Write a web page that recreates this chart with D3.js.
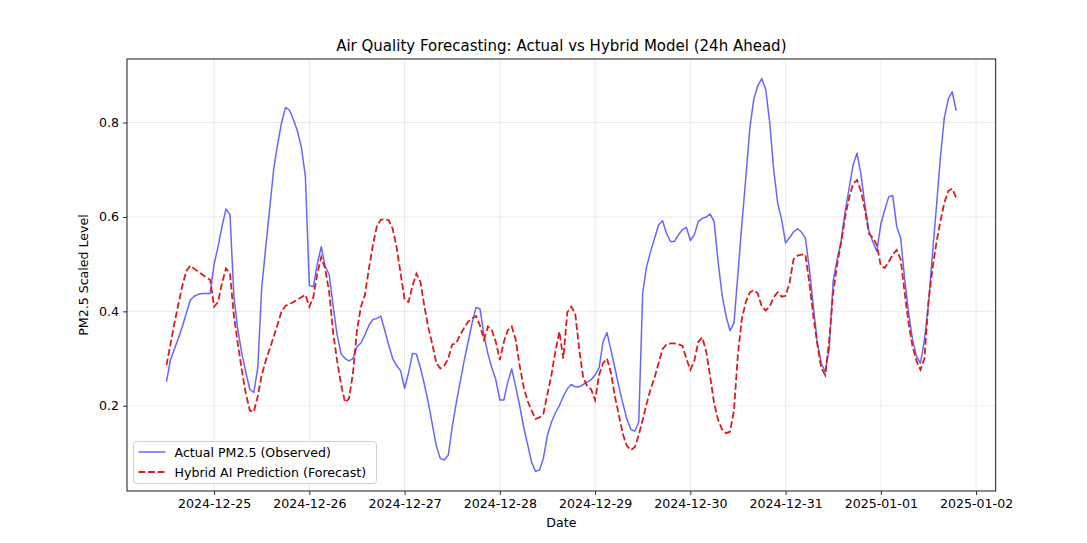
<!DOCTYPE html>
<html>
<head>
<meta charset="utf-8">
<script src="https://cdn.jsdelivr.net/npm/d3@7"></script>
<style>
  html, body { margin: 0; padding: 0; background: #fff; }
  svg { display: block; font-family: "DejaVu Sans", sans-serif; }
</style>
</head>
<body>
<svg id="chart" width="1087" height="543"></svg>
<script>
// ---- data (hourly, 2024-12-24 12:00 to 2025-01-01 19:00) ----
const startTime = "2024-12-24T12:00:00Z";
const actual = [
  0.251,0.297,0.320,0.343,0.368,0.396,0.424,0.432,0.436,0.438,0.438,0.438,
  0.500,0.537,0.580,0.617,0.605,0.430,0.360,0.310,0.270,0.235,0.228,0.280,
  0.450,0.535,0.617,0.700,0.754,0.800,0.832,0.826,0.806,0.782,0.747,0.686,
  0.455,0.452,0.500,0.537,0.495,0.478,0.410,0.350,0.310,0.300,0.295,0.300,
  0.325,0.333,0.350,0.370,0.383,0.385,0.390,0.360,0.328,0.300,0.285,0.274,
  0.237,0.270,0.311,0.309,0.280,0.245,0.205,0.160,0.115,0.088,0.085,0.095,
  0.155,0.205,0.250,0.295,0.335,0.375,0.408,0.405,0.350,0.310,0.280,0.255,
  0.212,0.212,0.250,0.278,0.240,0.200,0.155,0.118,0.080,0.061,0.064,0.090,
  0.138,0.165,0.185,0.200,0.220,0.236,0.245,0.240,0.240,0.245,0.250,0.255,
  0.265,0.280,0.335,0.355,0.318,0.280,0.240,0.205,0.172,0.150,0.146,0.165,
  0.440,0.495,0.527,0.555,0.583,0.592,0.565,0.548,0.548,0.562,0.573,0.578,
  0.550,0.562,0.590,0.597,0.600,0.606,0.590,0.505,0.435,0.390,0.359,0.375,
  0.480,0.585,0.685,0.788,0.850,0.878,0.893,0.870,0.800,0.700,0.630,0.595,
  0.545,0.556,0.568,0.575,0.568,0.555,0.490,0.410,0.335,0.290,0.272,0.320,
  0.465,0.510,0.550,0.610,0.660,0.710,0.735,0.690,0.625,0.570,0.547,0.527,
  0.585,0.615,0.643,0.645,0.580,0.555,0.470,0.397,0.340,0.305,0.290,0.340,
  0.415,0.520,0.620,0.725,0.810,0.850,0.865,0.825
];
const predicted = [
  0.286,0.330,0.375,0.415,0.455,0.485,0.497,0.490,0.484,0.478,0.472,0.467,
  0.410,0.420,0.460,0.491,0.480,0.390,0.330,0.275,0.225,0.190,0.187,0.220,
  0.265,0.295,0.320,0.346,0.372,0.400,0.412,0.415,0.420,0.425,0.430,0.435,
  0.410,0.430,0.480,0.515,0.490,0.440,0.355,0.295,0.245,0.207,0.215,0.270,
  0.360,0.410,0.435,0.490,0.540,0.580,0.594,0.595,0.593,0.575,0.535,0.480,
  0.425,0.420,0.455,0.480,0.462,0.410,0.365,0.330,0.290,0.279,0.285,0.300,
  0.330,0.332,0.350,0.365,0.378,0.385,0.390,0.370,0.340,0.368,0.360,0.335,
  0.297,0.335,0.360,0.368,0.340,0.285,0.240,0.210,0.190,0.172,0.175,0.184,
  0.225,0.265,0.315,0.357,0.300,0.398,0.410,0.395,0.320,0.260,0.242,0.235,
  0.212,0.265,0.290,0.300,0.270,0.220,0.180,0.140,0.115,0.106,0.112,0.138,
  0.170,0.205,0.235,0.260,0.290,0.320,0.330,0.332,0.332,0.330,0.327,0.300,
  0.276,0.295,0.335,0.345,0.315,0.262,0.205,0.170,0.150,0.142,0.145,0.190,
  0.310,0.385,0.420,0.440,0.445,0.438,0.410,0.402,0.410,0.430,0.440,0.431,
  0.433,0.460,0.510,0.518,0.520,0.520,0.460,0.390,0.330,0.280,0.265,0.340,
  0.440,0.500,0.545,0.600,0.640,0.670,0.678,0.655,0.615,0.565,0.556,0.540,
  0.497,0.492,0.505,0.520,0.530,0.510,0.440,0.375,0.325,0.295,0.276,0.300,
  0.420,0.490,0.545,0.590,0.630,0.655,0.660,0.640
];
const xTickLabels = ["2024-12-25","2024-12-26","2024-12-27","2024-12-28","2024-12-29",
                     "2024-12-30","2024-12-31","2025-01-01","2025-01-02"];
const yTickValues = [0.2, 0.4, 0.6, 0.8];
const seriesNames = ["Actual PM2.5 (Observed)", "Hybrid AI Prediction (Forecast)"];
const titleText = "Air Quality Forecasting: Actual vs Hybrid Model (24h Ahead)";

// ---- layout ----
const svg = d3.select("#chart");
const plot = { left: 127, right: 995.7, top: 59, bottom: 491 };

const t0 = new Date(startTime);
const times = actual.map((_, i) => d3.utcHour.offset(t0, i));

// matplotlib-style 5% padding
const xExt = d3.extent(times);
const xPad = (xExt[1] - xExt[0]) * 0.05;
const x = d3.scaleUtc()
  .domain([new Date(+xExt[0] - xPad), new Date(+xExt[1] + xPad)])
  .range([plot.left, plot.right]);

const allVals = actual.concat(predicted);
const yExt = d3.extent(allVals);
const yPad = (yExt[1] - yExt[0]) * 0.05;
const y = d3.scaleLinear()
  .domain([yExt[0] - yPad, yExt[1] + yPad])
  .range([plot.bottom, plot.top]);

const xTicks = xTickLabels.map(s => new Date(s + "T00:00:00Z"));

// grid
const grid = svg.append("g");
grid.selectAll("line.gx").data(xTicks).enter().append("line")
  .attr("x1", d => x(d)).attr("x2", d => x(d))
  .attr("y1", plot.top).attr("y2", plot.bottom)
  .attr("stroke", "#b0b0b0").attr("stroke-opacity", 0.3).attr("stroke-width", 0.9);
grid.selectAll("line.gy").data(yTickValues).enter().append("line")
  .attr("x1", plot.left).attr("x2", plot.right)
  .attr("y1", d => y(d)).attr("y2", d => y(d))
  .attr("stroke", "#b0b0b0").attr("stroke-opacity", 0.3).attr("stroke-width", 0.9);

// axes
const fmt = d3.utcFormat("%Y-%m-%d");
const xAxis = d3.axisBottom(x).tickValues(xTicks).tickFormat(fmt).tickSize(4).tickPadding(4);
const yAxis = d3.axisLeft(y).tickValues(yTickValues).tickFormat(d3.format(".1f")).tickSize(4).tickPadding(4);

const gx = svg.append("g").attr("transform", `translate(0,${plot.bottom})`).call(xAxis);
const gy = svg.append("g").attr("transform", `translate(${plot.left},0)`).call(yAxis);
[gx, gy].forEach(g => {
  g.select(".domain").remove();
  g.selectAll(".tick line").attr("stroke", "#000").attr("stroke-width", 0.8);
  g.selectAll(".tick text").attr("fill", "#000").style("font-size", "12.6px")
    .style("font-family", "DejaVu Sans, sans-serif");
});

// lines
const lineGen = d3.line().x((d, i) => x(times[i])).y(d => y(d));
svg.append("path").datum(actual)
  .attr("d", lineGen).attr("fill", "none")
  .attr("stroke", "#0000ff").attr("stroke-opacity", 0.6)
  .attr("stroke-width", 1.5).attr("stroke-linejoin", "round");
svg.append("path").datum(predicted)
  .attr("d", lineGen).attr("fill", "none")
  .attr("stroke", "#dd1a1e").attr("stroke-width", 1.8)
  .attr("stroke-dasharray", "6.7,2.9");

// frame
svg.append("rect")
  .attr("x", plot.left).attr("y", plot.top)
  .attr("width", plot.right - plot.left).attr("height", plot.bottom - plot.top)
  .attr("fill", "none").attr("stroke", "#000").attr("stroke-width", 0.9);

// title and labels
svg.append("text").attr("x", (plot.left + plot.right) / 2).attr("y", 51)
  .attr("text-anchor", "middle").style("font-size", "15px").attr("fill", "#000")
  .text(titleText);
svg.append("text").attr("x", (plot.left + plot.right) / 2).attr("y", 527)
  .attr("text-anchor", "middle").style("font-size", "12.6px").attr("fill", "#000")
  .text("Date");
svg.append("text")
  .attr("transform", `translate(88,${(plot.top + plot.bottom) / 2}) rotate(-90)`)
  .attr("text-anchor", "middle").style("font-size", "12.6px").attr("fill", "#000")
  .text("PM2.5 Scaled Level");

// legend
const lg = svg.append("g").attr("transform", "translate(133.5,441.5)");
lg.append("rect").attr("width", 243).attr("height", 42).attr("rx", 3)
  .attr("fill", "#fff").attr("fill-opacity", 0.8)
  .attr("stroke", "#cccccc").attr("stroke-width", 0.9);
const legendStyles = [
  { stroke: "#0000ff", op: 0.6, w: 1.5, dash: null },
  { stroke: "#dd1a1e", op: 1, w: 1.8, dash: "6.7,2.9" }
];
seriesNames.forEach((name, i) => {
  const yy = 10.5 + i * 20;
  const s = legendStyles[i];
  lg.append("line").attr("x1", 5).attr("x2", 32).attr("y1", yy).attr("y2", yy)
    .attr("stroke", s.stroke).attr("stroke-opacity", s.op).attr("stroke-width", s.w)
    .attr("stroke-dasharray", s.dash);
  lg.append("text").attr("x", 41).attr("y", yy + 4.5)
    .style("font-size", "12.6px").attr("fill", "#000").text(name);
});
</script>
</body>
</html>
